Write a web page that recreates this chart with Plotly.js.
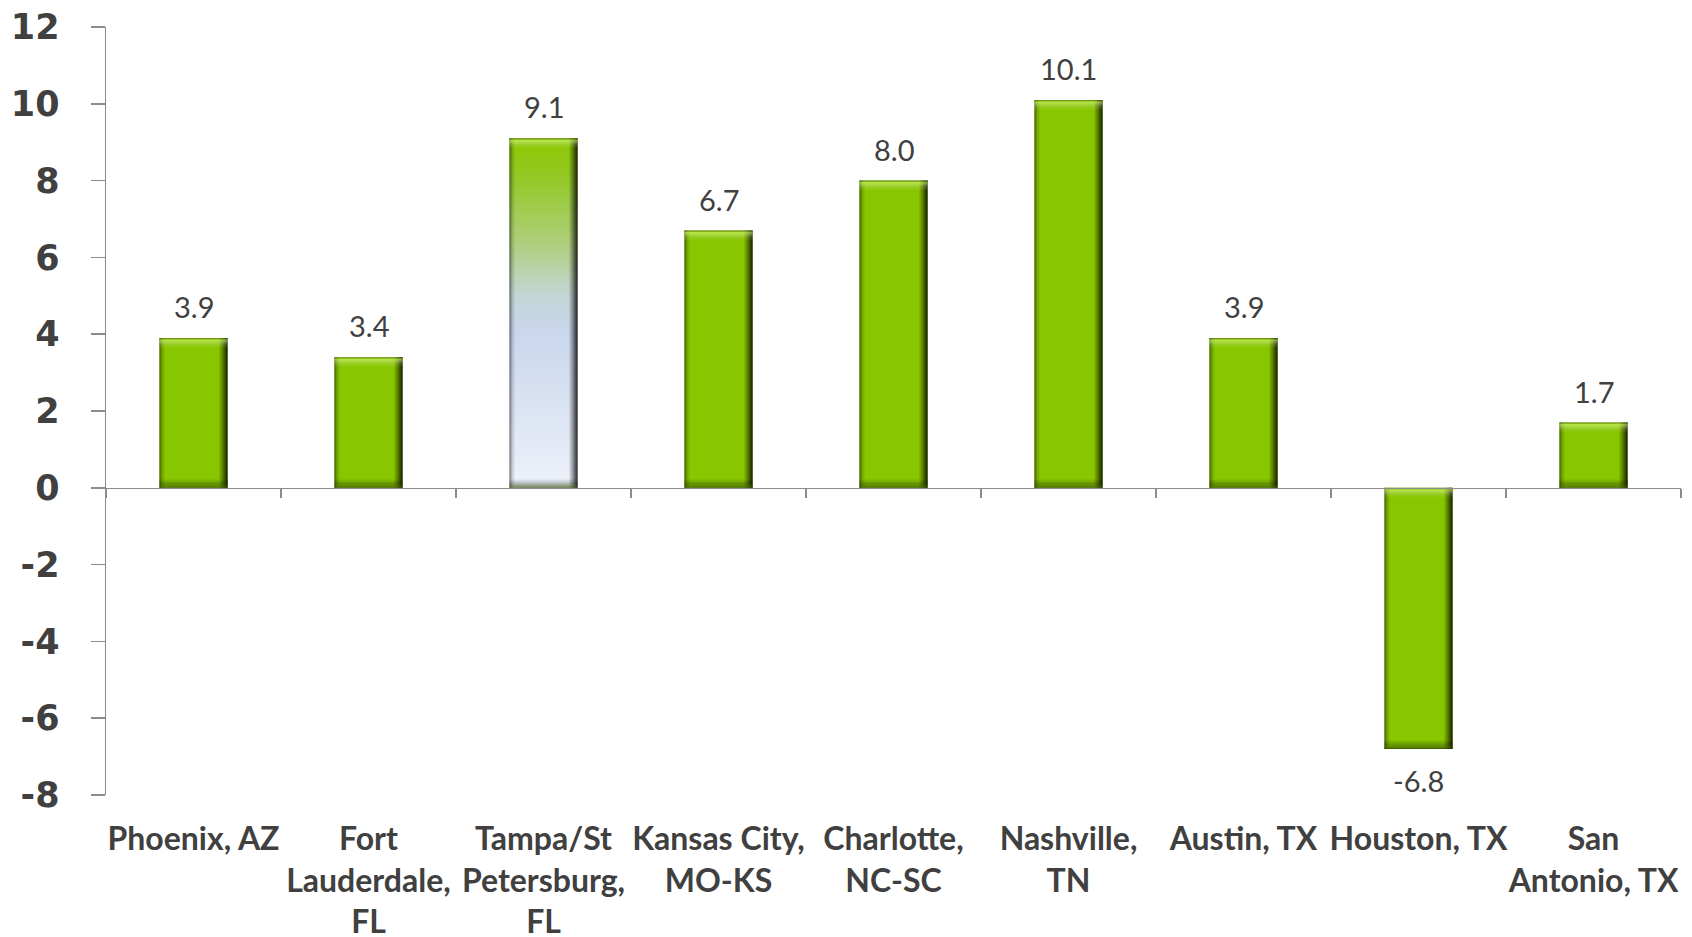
<!DOCTYPE html>
<html><head><meta charset="utf-8">
<script src="https://cdn.plot.ly/plotly-3.0.1.min.js"></script>
<style>html,body{margin:0;padding:0;background:#fff;}#chart{width:1692px;height:937px;}</style>
</head><body><div id="chart"></div>
<script>
const categories = ["Phoenix, AZ","Fort<br>Lauderdale,<br>FL","Tampa/St<br>Petersburg,<br>FL","Kansas City,<br>MO-KS","Charlotte,<br>NC-SC","Nashville,<br>TN","Austin, TX","Houston, TX","San<br>Antonio, TX"];
const values = [3.9, 3.4, 9.1, 6.7, 8.0, 10.1, 3.9, -6.8, 1.7];
const valueLabels = ["3.9","3.4","9.1","6.7","8.0","10.1","3.9","-6.8","1.7"];
const yTicks = [-8, -6, -4, -2, 0, 2, 4, 6, 8, 10, 12];
const yTickLabels = ["-8","-6","-4","-2","0","2","4","6","8","10","12"];
const highlightIndex = 2;

const textColor = '#404040';
const axisColor = '#8c8c8c';
const catRange = [-0.5, categories.length - 0.5];

const data = [
  {type:'bar', x:categories, y:values, marker:{color:'#88c600', line:{width:0}},
   hoverinfo:'skip', xaxis:'x', yaxis:'y'},
  {type:'scatter', mode:'none', x:categories, y:values, xaxis:'x2', yaxis:'y',
   hoverinfo:'skip', showlegend:false}
];

const annotations = categories.map((c,i)=>({
  x:c, y:values[i], xref:'x', yref:'y', text:valueLabels[i], showarrow:false,
  yanchor: values[i] >= 0 ? 'bottom' : 'top', yshift: values[i] >= 0 ? 12 : -12,
  font:{family:'Lato, Carlito, sans-serif', size:29, color:textColor}
}));

const layout = {
  width:1692, height:937,
  margin:{l:106, r:11, t:27, b:142},
  paper_bgcolor:'#ffffff', plot_bgcolor:'#ffffff',
  showlegend:false, bargap:0.61,
  xaxis:{type:'category', range:catRange, showline:false, showgrid:false, zeroline:false, ticks:'',
    tickangle:0, automargin:false, ticklabelstandoff:22,
    tickfont:{family:'Lato, Carlito, sans-serif', size:32, color:textColor, weight:'bold'}},
  xaxis2:{type:'category', range:catRange, overlaying:'x', anchor:'free', position:0.4, side:'bottom',
    showline:true, linecolor:axisColor, linewidth:1.5, showgrid:false, zeroline:false,
    ticks:'outside', tickson:'boundaries', ticklen:9, tickcolor:axisColor, tickwidth:1.5,
    showticklabels:false},
  yaxis:{range:[-8,12], tickvals:yTicks, ticktext:yTickLabels, showgrid:false, zeroline:false, showline:true,
    linecolor:axisColor, linewidth:1.5, ticks:'outside', ticklen:14, tickcolor:axisColor, tickwidth:1.5,
    ticklabelstandoff:24,
    tickfont:{family:'DejaVu Sans, Verdana, sans-serif', size:35, color:textColor, weight:'bold'}},
  annotations: annotations
};

Plotly.newPlot('chart', data, layout, {staticPlot:true, displayModeBar:false}).then(gd => {
  const NS = 'http://www.w3.org/2000/svg';
  const svg = gd.querySelector('.main-svg');
  let defs = svg.querySelector('defs');
  if (!defs) { defs = document.createElementNS(NS,'defs'); svg.insertBefore(defs, svg.firstChild); }
  function grad(id, vertical, stops) {
    const g = document.createElementNS(NS,'linearGradient');
    g.setAttribute('id', id);
    g.setAttribute('x1','0'); g.setAttribute('y1','0');
    g.setAttribute('x2', vertical ? '0' : '1'); g.setAttribute('y2', vertical ? '1' : '0');
    stops.forEach(s => {
      const st = document.createElementNS(NS,'stop');
      st.setAttribute('offset', Math.max(0, Math.min(1, s[0])));
      st.setAttribute('stop-color', s[1]);
      st.setAttribute('stop-opacity', s[2] === undefined ? 1 : s[2]);
      g.appendChild(st);
    });
    defs.appendChild(g);
  }
  grad('gTampa', true, [[0,'#8cc800'],[0.12,'#93c928'],[0.3,'#afcf7c'],[0.45,'#c4d6d6'],[0.55,'#c9d6ec'],[0.8,'#dde5f3'],[1,'#eef2fa']]);
  const trace = gd.querySelectorAll('.barlayer .trace')[0];
  const paths = trace.querySelectorAll('.point path');
  paths.forEach((p, i) => {
    const bb = p.getBBox();
    const w = bb.width, h = bb.height;
    if (i === highlightIndex) p.style.fill = 'url(#gTampa)';
    grad('gH'+i, false, [[0,'#000',0.5],[3/w,'#000',0.15],[6/w,'#000',0],[1-9/w,'#000',0],[1-5/w,'#000',0.35],[1,'#000',0.85]]);
    grad('gV'+i, true, [[0,'#2a4000',0.55],[2/h,'#d8ff70',0.55],[6/h,'#ffffff',0.15],[10/h,'#ffffff',0],
                        [1-9/h,'#000',0],[1-5/h,'#000',0.2],[1-2/h,'#3a5a00',0.5],[1,'#1e3000',0.75]]);
    const o1 = p.cloneNode(true); o1.style.fill = 'url(#gH'+i+')'; o1.style.stroke='none';
    const o2 = p.cloneNode(true); o2.style.fill = 'url(#gV'+i+')'; o2.style.stroke='none';
    p.parentNode.appendChild(o1); p.parentNode.appendChild(o2);
  });
});
</script>
</body></html>
